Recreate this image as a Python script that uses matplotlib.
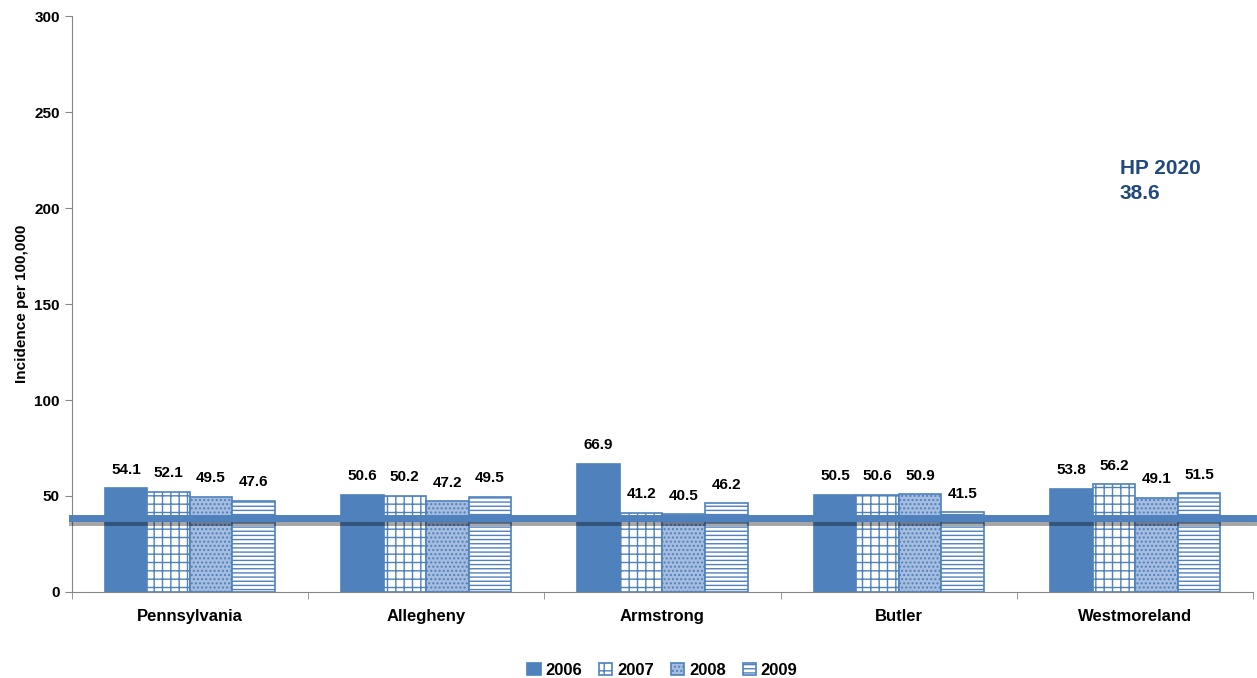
import numpy as np
import matplotlib.pyplot as plt
import matplotlib.patheffects as pe

plt.rcParams['font.family'] = ['Liberation Sans', 'DejaVu Sans']
plt.rcParams['hatch.linewidth'] = 1.0

# data
counties = ["Pennsylvania", "Allegheny", "Armstrong", "Butler", "Westmoreland"]
years = ["2006", "2007", "2008", "2009"]
v2006 = [54.1, 50.6, 66.9, 50.5, 53.8]
v2007 = [52.1, 50.2, 41.2, 50.6, 56.2]
v2008 = [49.5, 47.2, 40.5, 50.9, 49.1]
v2009 = [47.6, 49.5, 46.2, 41.5, 51.5]
hp_target = 38.6

series = [v2006, v2007, v2008, v2009]
blue = "#4f81bd"
faces = [blue, "white", "#a7bde0", "white"]
hatches = [None, "++", "....", "----"]

fig = plt.figure(figsize=(12.57, 6.78), dpi=100)
ax = fig.add_axes([0.057, 0.127, 0.94, 0.849])

x = np.arange(len(counties))
w = 0.18
for i, vals in enumerate(series):
    pos = x + (i - 1.5) * w
    ax.bar(pos, vals, w, color=faces[i], edgecolor=blue, hatch=hatches[i],
           linewidth=1.2, label=years[i], zorder=2)
    for px, v in zip(pos, vals):
        ax.text(px, v + 6, f"{v}", ha="center", va="bottom",
                fontsize=11, fontweight="bold")

# HP 2020 target line
ax.axhline(hp_target, color=blue, linewidth=5, zorder=3,
           path_effects=[pe.SimpleLineShadow(offset=(0, -3), alpha=0.35),
                         pe.Normal()], clip_on=False)
ax.text(0.887, 0.752, f"HP 2020\n{hp_target}", transform=ax.transAxes,
        color="#1f497d", fontsize=15, fontweight="bold", va="top",
        linespacing=1.4)

ax.set_xlim(-0.5, len(counties) - 0.5)
ax.set_ylim(0, 300)
ax.set_yticks(range(0, 301, 50))
ax.set_xticks(x)
ax.set_xticklabels(counties, fontsize=12, fontweight="bold")
ax.set_xticks(np.arange(-0.5, len(counties), 1), minor=True)
ax.tick_params(axis="x", which="major", length=0, pad=12)
ax.tick_params(axis="x", which="minor", length=5, color="#868686")
ax.tick_params(axis="y", labelsize=11, length=5, color="#868686")
for t in ax.get_yticklabels():
    t.set_fontweight("bold")
ax.set_ylabel("Incidence per 100,000", fontsize=11, fontweight="bold", labelpad=4)

for s in ["top", "right"]:
    ax.spines[s].set_visible(False)
ax.spines["left"].set_color("#868686")
ax.spines["bottom"].set_color("#868686")

ax.legend(loc="upper center", bbox_to_anchor=(0.5, -0.097), ncol=4, frameon=False,
          prop={"weight": "bold", "size": 12}, handlelength=0.8, handleheight=0.8,
          columnspacing=1.0, handletextpad=0.3)

fig.savefig("out.png", dpi=100)
